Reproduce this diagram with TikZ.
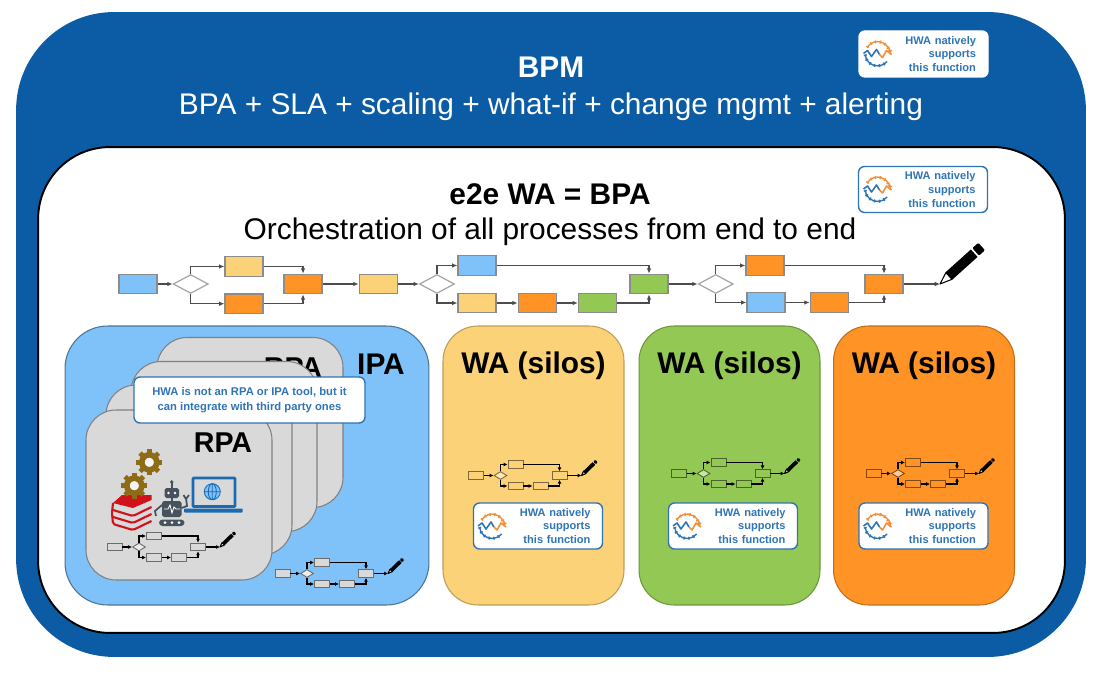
\documentclass[tikz,border=0pt]{standalone}
\usepackage{fontspec}
\setmainfont{Liberation Sans}
\usetikzlibrary{positioning, shapes.geometric, arrows.meta}

\definecolor{bpmblue}{HTML}{0B5CA5}
\definecolor{skyblue}{HTML}{7FC1F9}
\definecolor{wayellow}{HTML}{FBD277}
\definecolor{waorange}{HTML}{FF9326}
\definecolor{wagreen}{HTML}{92C853}
\definecolor{rpagray}{HTML}{D9D9D9}
\definecolor{hwablue}{HTML}{2F75B5}
\definecolor{hwaorange}{HTML}{F0903A}
\definecolor{gearbrown}{HTML}{8E6B16}
\definecolor{bookred}{HTML}{D0121B}
\definecolor{robotgray}{HTML}{46525E}
\definecolor{laptopblue}{HTML}{1C6BB0}

\begin{document}
\begin{tikzpicture}[
    x=0.02cm, y=-0.02cm,
    >={Latex[length=3pt, width=2.6pt]},
    every edge/.style={draw, line width=.8pt, black!70},
    vh/.style={to path={|- (\tikztotarget)}},
    hv/.style={to path={-| (\tikztotarget)}},
    panel/.style={inner sep=0, outer sep=0},
    section/.style={panel, fill=#1, draw=#1!75!black, line width=.6pt, rounded corners=.7cm, minimum width=3.62cm, minimum height=5.58cm},
    card/.style={panel, fill=rpagray, draw=black!50, line width=.6pt, rounded corners=.6cm, minimum width=3.72cm, minimum height=3.4cm},
    heading/.style={font=\bfseries\fontsize{17}{20}\selectfont},
    subheading/.style={font=\fontsize{17}{20}\selectfont},
    cardhead/.style={font=\bfseries\fontsize{16.3}{19}\selectfont},
    flowbox/.style={fill=#1, draw=black!45, line width=.7pt, minimum width=.76cm, minimum height=.39cm, inner sep=0},
    gate/.style={diamond, fill=white, draw=black!35, line width=.7pt, minimum width=.7cm, minimum height=.38cm, inner sep=0},
    minibox/.style={fill=#1, draw=#1!50!black, line width=.5pt, minimum width=.3cm, minimum height=.15cm, inner sep=0},
    minigate/.style={diamond, fill=#1!50!white, draw=#1!50!black, line width=.5pt, minimum width=.26cm, minimum height=.16cm, inner sep=0},
    hwabox/.style={fill=white, draw=hwablue, line width=.8pt, rounded corners=.12cm, inner xsep=.24cm, inner ysep=0, text width=2.1cm, minimum height=.92cm, align=right, text=hwablue, font=\bfseries\fontsize{6.3}{7.75}\selectfont},
    note/.style={fill=white, draw=hwablue, line width=.8pt, rounded corners=.12cm, minimum width=4.62cm, minimum height=.92cm, inner sep=0, align=center, text=hwablue, font=\bfseries\fontsize{6.4}{8.6}\selectfont},
    pics/pen/.style={code={
        \draw [fill=white, line width=.6pt, line join=round] (0,0) -- (12,-4.5) -- (12,4.5) -- cycle;
        \fill (12,-5) rectangle (46,5);
        \fill [rounded corners=.6pt] (48,-5) rectangle (56,5);
    }},
    pics/hwalogo/.style={code={
        \draw [hwaorange, line width=.8pt, ->] (150:.24cm) arc [start angle=150, end angle=-8, radius=.24cm];
        \draw [hwaorange, line width=1.7pt, dash pattern=on .8pt off 2pt] (150:.24cm) arc [start angle=150, end angle=20, radius=.24cm];
        \draw [hwablue, line width=.8pt] (185:.25cm) arc [start angle=185, end angle=320, radius=.25cm];
        \draw [hwablue, line width=1.7pt, dash pattern=on .8pt off 2pt] (185:.25cm) arc [start angle=185, end angle=320, radius=.25cm];
        \draw [hwablue, line width=.9pt, line join=round] (-14,0) -- (-10,-3) -- (-6,3) -- (-1,-4) -- (2,1);
        \draw [hwaorange, line width=.9pt, line join=round] (2,1) -- (5,4) -- (9,-3) -- (14,1);
    }},
    pics/gear/.style={code={
        \foreach \a in {0,45,...,315}
            \draw [gearbrown, line width=2.7pt] (\a:.14cm) -- (\a:.26cm);
        \draw [gearbrown, fill=rpagray!30!white, line width=3.2pt] (0,0) circle (.15cm);
    }},
    pics/miniflow/.style={code={
        \begin{scope}[>={Latex[length=2.2pt, width=2.2pt]}, every edge/.append style={black, line width=.6pt}]
        \node [minibox=#1] at (0,0) (start) {};
        \node [minigate=#1] at (24.5,0) (gate) {};
        \node [minibox=#1] at (39.5,-11) (top) {};
        \node [minibox=#1] at (39.5,10.5) (bota) {};
        \node [minibox=#1] at (64.5,10.5) (botb) {};
        \node [minibox=#1] at (83.5,0) (join) {};
        \coordinate (tip) at (105.5,0);
        \pic [rotate=44, scale=.375] at (tip) {pen};
        \path (start) edge [->] (gate);
        \path (gate.north) edge [vh, ->] (top.west);
        \path (gate.south) edge [vh, ->] (bota.west);
        \path (bota) edge [->] (botb);
        \path (top.east) edge [hv, ->] (join.north);
        \path (botb.east) edge [hv, ->] (join.south);
        \path (join) edge [->] (tip);
        \end{scope}
    }}]

    \useasboundingbox (0,0) rectangle (1114,678);

    \node at (551,334.5) [panel, fill=bpmblue, rounded corners=1.96cm, minimum width=21.4cm, minimum height=12.9cm] (bpm) {};
    \node at (551.5,390) [panel, fill=white, draw=black, line width=1.1pt, rounded corners=1.44cm, minimum width=20.54cm, minimum height=9.72cm] (wa) {};

    \node at (551,67) [heading, text=white] (bpmtitle) {BPM};
    \node at (551,107) [subheading, text=white] (bpmsub) {BPA + SLA + scaling + what-if + change mgmt + alerting};
    \node at (550,194) [heading] (watitle) {e2e WA = BPA};
    \node at (550,232) [subheading] (wasub) {Orchestration of all processes from end to end};

    \node at (923.5,54) [hwabox, draw=white] (hwabpm) {HWA natively \\ supports \\ this function};
    \node at (923,189.5) [hwabox] (hwawa) {HWA natively \\ supports \\ this function};
    \pic at (877.5,53.5) {hwalogo};
    \pic at (877.5,189) {hwalogo};

    \node at (138,284) [flowbox=skyblue] (start) {};
    \node [gate, right=.3cm of start] (gate1) {};
    \node at (244,266.5) [flowbox=wayellow] (top1) {};
    \node [flowbox=waorange, below=.33cm of top1] (bot1) {};
    \node at (303,284) [flowbox=waorange] (join1) {};
    \node [flowbox=wayellow, right=.72cm of join1] (mid) {};
    \node [gate, right=.42cm of mid] (gate2) {};
    \node at (477,265.5) [flowbox=skyblue] (top2) {};
    \node at (477,303) [flowbox=wayellow] (bot2a) {};
    \node [flowbox=waorange, right=.42cm of bot2a] (bot2b) {};
    \node [flowbox=wagreen, right=.42cm of bot2b] (bot2c) {};
    \node at (649,284) [flowbox=wagreen] (join2) {};
    \node [gate, right=.58cm of join2] (gate3) {};
    \node at (765,265.5) [flowbox=waorange] (top3) {};
    \node at (766,302.5) [flowbox=skyblue] (bot3a) {};
    \node [flowbox=waorange, right=.48cm of bot3a] (bot3b) {};
    \node at (884,284) [flowbox=waorange] (join3) {};
    \coordinate (pentip) at (940,284);
    \pic [rotate=42] at (pentip) {pen};

    \path (start) edge [->] (gate1);
    \path (gate1.north) edge [vh, ->] (top1.west);
    \path (gate1.south) edge [vh, ->] (bot1.west);
    \path (top1.east) edge [hv, ->] (join1.north);
    \path (bot1.east) edge [hv, ->] (join1.south);
    \path (join1) edge [->] (mid);
    \path (mid) edge [->] (gate2);
    \path (gate2.north) edge [vh, ->] (top2.west);
    \path (gate2.south) edge [vh, ->] (bot2a.west);
    \path (bot2a) edge [->] (bot2b);
    \path (bot2b) edge [->] (bot2c);
    \path (top2.east) edge [hv, ->] (join2.north);
    \path (bot2c.east) edge [hv, ->] (join2.south);
    \path (join2) edge [->] (gate3);
    \path (gate3.north) edge [vh, ->] (top3.west);
    \path (gate3.south) edge [vh, ->] (bot3a.west);
    \path (bot3a) edge [->] (bot3b);
    \path (top3.east) edge [hv, ->] (join3.north);
    \path (bot3b.east) edge [hv, ->] (join3.south);
    \path (join3) edge [->] (pentip);

    \node at (247,465.5) [section=skyblue, draw=black!40!skyblue, rounded corners=.85cm, minimum width=7.28cm] (ipa) {};
    \node at (533.5,465.5) [section=wayellow] (wayellowbox) {};
    \node at (729.5,465.5) [section=wagreen] (wagreenbox) {};
    \node at (924,465.5) [section=waorange] (waorangebox) {};

    \node at (381,364) [cardhead, font=\bfseries\fontsize{17}{20}\selectfont] (ipatitle) {IPA};
    \node at (533.5,366) [heading] (sectitlea) {WA (silos)};
    \node at (729.5,366) [heading] (sectitleb) {WA (silos)};
    \node at (924,366) [heading] (sectitlec) {WA (silos)};

    \node at (250,422.5) [card] (carda) {};
    \node at (293,368) [cardhead] (rpaback) {RPA};
    \foreach \cx/\cy/\cn in {224/446.5/b, 199/470/c, 179/495/d}
        \node at (\cx,\cy) [card] (card\cn) {};
    \node at (223,443) [cardhead] (rpafront) {RPA};
    \node at (249.5,400) [note] (rpanote) {HWA is not an RPA or IPA tool, but it \\ can integrate with third party ones};

    \pic at (149.3,462.3) {gear};
    \fill [bookred] (113,503) -- (122,495) -- (151.5,495) -- (151.5,500) -- (133,508) -- cycle;
    \draw [bookred, line width=1.2pt, line join=round, rounded corners=1pt] (151.5,507) -- (133,516) -- (113,510);
    \draw [bookred, line width=1.2pt, line join=round, rounded corners=1pt] (151.5,514) -- (133,523) -- (113,517);
    \draw [bookred, line width=1.2pt, line join=round, rounded corners=1pt] (113,503) -- (112,513) -- (113,524) -- (133,530) -- (151.5,521);
    \pic at (134.3,485.7) {gear};

    \draw [robotgray, line width=1pt] (171.7,482) -- (171.7,501);
    \fill [robotgray] (171.7,482) circle (1.8);
    \fill [robotgray, rounded corners=1pt] (164.5,488) rectangle (179,498);
    \fill [white] (168.5,493) circle (1.3) (175,493) circle (1.3);
    \fill [robotgray, rounded corners=1pt] (162,501) rectangle (181.5,517);
    \draw [white, line width=.5pt] (164,509) -- (168,509) -- (170,505) -- (172,513) -- (174,507) -- (176,509) -- (180,509);
    \fill [robotgray, rounded corners=2pt] (159,519.5) rectangle (184.5,526);
    \fill [white] (165,522.7) circle (1.5) (172,522.7) circle (1.5) (179,522.7) circle (1.5);
    \draw [robotgray, line width=1pt] (162,505) -- (155,511) -- (156,516);
    \draw [robotgray, line width=1pt] (181.5,508) -- (187,506) -- (186,498) (183.5,495) -- (186,499) -- (189,495);

    \draw [laptopblue, line width=1.6pt, rounded corners=.5pt] (193,478) rectangle (235,506.5);
    \fill [laptopblue, rounded corners=.5pt] (184,508.5) rectangle (242.7,512.5);
    \draw [laptopblue, fill=skyblue, line width=.5pt] (212.3,491.7) circle (8);
    \draw [laptopblue, line width=.5pt] (212.3,491.7) ellipse (4 and 8) (204.3,491.7) -- (220.3,491.7) (212.3,483.7) -- (212.3,499.7);

    \pic (rpaflow) at (114.5,547) {miniflow=rpagray};
    \pic (ipaflow) at (282.5,573.5) {miniflow=rpagray};
    \pic (yellowflow) at (476,475.5) {miniflow=wayellow};
    \pic (greenflow) at (679,473.5) {miniflow=wagreen};
    \pic (orangeflow) at (873.5,473.5) {miniflow=waorange};

    \node at (538,526) [hwabox] (hwayellow) {HWA natively \\ supports \\ this function};
    \node at (733,526) [hwabox] (hwagreen) {HWA natively \\ supports \\ this function};
    \node at (923.5,526) [hwabox] (hwaorange) {HWA natively \\ supports \\ this function};
    \pic at (492,526) {hwalogo};
    \pic at (687,526) {hwalogo};
    \pic at (877.5,526) {hwalogo};

\end{tikzpicture}
\end{document}
